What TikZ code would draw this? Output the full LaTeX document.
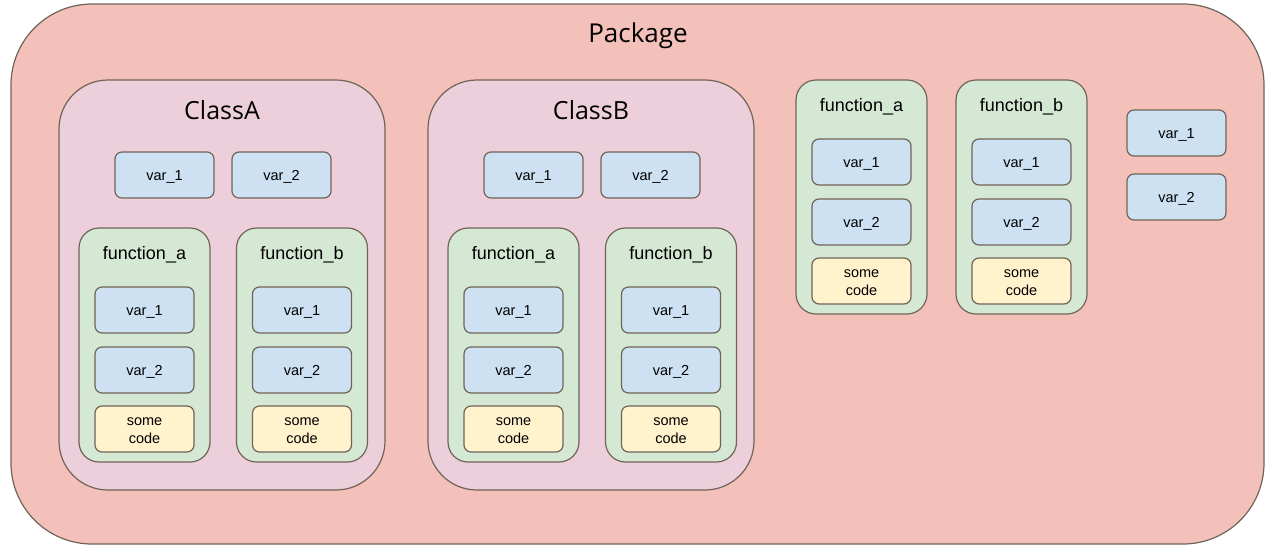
\documentclass[tikz,border=0pt]{standalone}
\usepackage{fontspec}
\setmainfont{Liberation Sans}
\newfontfamily\titlefont{Open Sans}
\definecolor{strk}{RGB}{112,100,88}
\definecolor{pkgfill}{RGB}{244,193,186}
\definecolor{clsfill}{RGB}{236,207,218}
\definecolor{fnfill}{RGB}{213,232,212}
\definecolor{varfill}{RGB}{205,225,242}
\definecolor{codefill}{RGB}{255,242,204}
\newcommand{\low}[1]{\raisebox{-2pt}[\height][\depth]{#1}}
\newcommand{\codetext}{\raisebox{-2pt}[\height][\depth]{\begin{tabular}{@{}c@{}}some\\code\end{tabular}}}
\tikzset{
  base/.style={draw=strk, line width=1.2pt, inner sep=0pt, outer sep=0pt},
  pkgbox/.style={base, fill=pkgfill, minimum width=1253pt, minimum height=540pt, rounded corners=81pt},
  clsbox/.style={base, fill=clsfill, minimum width=326pt, minimum height=410pt, rounded corners=49pt},
  fnbox/.style={base, fill=fnfill, minimum width=131pt, minimum height=234pt, rounded corners=20pt},
  varbox/.style={base, fill=varfill, minimum width=99pt, minimum height=46pt, rounded corners=7pt, font=\fontsize{14.5}{18}\selectfont},
  codebox/.style={base, fill=codefill, minimum width=99pt, minimum height=46pt, rounded corners=7pt, font=\fontsize{14.5}{18}\selectfont},
  bigtitle/.style={inner sep=0pt, font=\titlefont\fontsize{25}{30}\selectfont},
  fntitle/.style={inner sep=0pt, font=\fontsize{18}{22}\selectfont},
}
\newcommand{\myfunc}[4]{%
  \node[fnbox] (#1) at (#2,#3+117) {};
  \node[fntitle] (#1t) at (#2,#3+27) {#4};
  \node[varbox] (#1v1) at (#2,#3+82) {\low{var\_1}};
  \node[varbox] (#1v2) at (#2,#3+142) {\low{var\_2}};
  \node[codebox] (#1c) at (#2,#3+201) {\codetext};
}
\begin{document}
\begin{tikzpicture}[x=1pt,y=-1pt]
\useasboundingbox (0,0) rectangle (1270,550);
\node[pkgbox] (pkg) at (637.5,274) {};
\node[bigtitle, font=\titlefont\fontsize{26}{30}\selectfont] (pkgt) at (638,36) {Package};
% ClassA
\node[clsbox] (ca) at (222,285) {};
\node[bigtitle] (cat) at (222,110) {ClassA};
\node[varbox] (cav1) at (164.5,175) {\low{var\_1}};
\node[varbox] (cav2) at (281.5,175) {\low{var\_2}};
\myfunc{cafa}{144.5}{228}{function\_a}
\myfunc{cafb}{302}{228}{function\_b}
% ClassB
\node[clsbox] (cb) at (591,285) {};
\node[bigtitle] (cbt) at (591,110) {ClassB};
\node[varbox] (cbv1) at (533.5,175) {\low{var\_1}};
\node[varbox] (cbv2) at (650.5,175) {\low{var\_2}};
\myfunc{cbfa}{513.5}{228}{function\_a}
\myfunc{cbfb}{671}{228}{function\_b}
% standalone functions
\myfunc{pfa}{861.5}{80}{function\_a}
\myfunc{pfb}{1021.5}{80}{function\_b}
% standalone vars
\node[varbox] (pv1) at (1176.5,133) {\low{var\_1}};
\node[varbox] (pv2) at (1176.5,197) {\low{var\_2}};
\end{tikzpicture}
\end{document}
